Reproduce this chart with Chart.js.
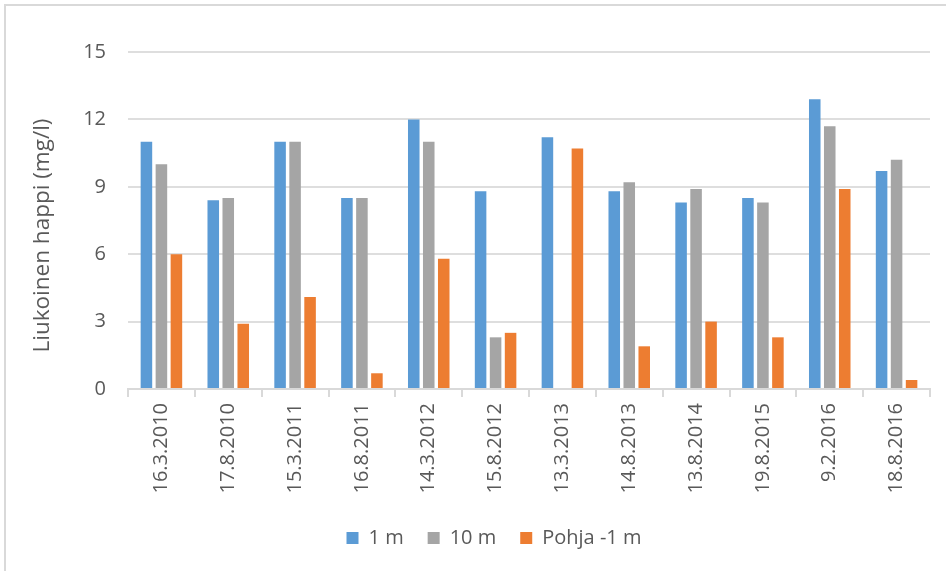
<!DOCTYPE html>
<html>
<head>
<meta charset="utf-8">
<script src="https://cdn.jsdelivr.net/npm/chart.js@4"></script>
<style>
  html, body { margin: 0; padding: 0; background: #ffffff; }
  #wrap { position: relative; width: 946px; height: 571px; overflow: hidden; background: #ffffff; }
  #frame { position: absolute; left: 4px; top: 4px; width: 970px; height: 590px;
           border: 2px solid #d9d9d9; box-sizing: border-box; }
  #c { position: absolute; left: 0; top: 0; }
</style>
</head>
<body>
<div id="wrap">
  <div id="frame"></div>
  <canvas id="c" width="946" height="571"></canvas>
</div>
<script>
// Sampling dates
const dates = ['16.3.2010', '17.8.2010', '15.3.2011', '16.8.2011', '14.3.2012', '15.8.2012',
               '13.3.2013', '14.8.2013', '13.8.2014', '19.8.2015', '9.2.2016', '18.8.2016'];

// Dissolved oxygen (mg/l) per depth
const depth1m   = [11, 8.4, 11, 8.5, 12, 8.8, 11.2, 8.8, 8.3, 8.5, 12.9, 9.7];
const depth10m  = [10, 8.5, 11, 8.5, 11, 2.3, null, 9.2, 8.9, 8.3, 11.7, 10.2];
const nearBottom = [6, 2.9, 4.1, 0.7, 5.8, 2.5, 10.7, 1.9, 3.0, 2.3, 8.9, 0.4];

const seriesNames = ['1 m', '10 m', 'Pohja -1 m'];
const yMin = 0, yMax = 15, yStep = 3;
const yTitle = 'Liukoinen happi (mg/l)';

const FONT = '"Open Sans", "Noto Sans", sans-serif';
const TEXT = '#595959';
const GRID = '#dedede';

Chart.defaults.font.family = FONT;
Chart.defaults.color = TEXT;

// Vertical axis title, rotated and centred beside the plot
const axisTitle = {
  id: 'axisTitle',
  afterDraw(chart) {
    const { ctx, chartArea } = chart;
    ctx.save();
    ctx.font = '22.5px ' + FONT;
    ctx.fillStyle = TEXT;
    ctx.textAlign = 'center';
    ctx.textBaseline = 'middle';
    ctx.translate(43, (chartArea.top + chartArea.bottom) / 2 + 15);
    ctx.rotate(-Math.PI / 2);
    ctx.fillText(yTitle, 0, 0);
    ctx.restore();
  }
};

// Nudge the legend row to the right so it sits under the whole frame
const legendShift = {
  id: 'legendShift',
  afterLayout(chart) {
    const lg = chart.legend;
    if (lg) { lg.left += 29; lg.right += 29; }
  }
};

new Chart(document.getElementById('c'), {
  type: 'bar',
  data: {
    labels: dates,
    datasets: [
      { label: seriesNames[0], data: depth1m,    backgroundColor: '#5b9bd5' },
      { label: seriesNames[1], data: depth10m,   backgroundColor: '#a5a5a5' },
      { label: seriesNames[2], data: nearBottom, backgroundColor: '#ed7d31' }
    ]
  },
  options: {
    responsive: false,
    animation: false,
    devicePixelRatio: 1,
    datasets: { bar: { categoryPercentage: 0.673, barPercentage: 0.77 } },
    layout: { padding: { left: 0, right: 16, top: 52, bottom: 13 } },
    plugins: {
      title: { display: false },
      tooltip: { enabled: false },
      legend: {
        position: 'bottom',
        labels: {
          boxWidth: 12, boxHeight: 12, padding: 24,
          color: TEXT,
          font: { size: 20, family: FONT }
        }
      }
    },
    scales: {
      x: {
        grid: { offset: true, drawOnChartArea: false, drawTicks: true, tickLength: 8, color: '#d9d9d9', lineWidth: 2 },
        border: { display: true, color: '#d9d9d9', width: 2 },
        ticks: { minRotation: 90, maxRotation: 90, autoSkip: false, padding: 6,
                 color: TEXT, font: { size: 20, family: FONT } },
        afterFit(scale) { scale.height = 115; }
      },
      y: {
        min: yMin, max: yMax,
        grid: { color: GRID, lineWidth: 2, drawTicks: false },
        border: { display: false },
        ticks: { stepSize: yStep, padding: 22, color: TEXT, font: { size: 20, family: FONT } },
        afterFit(scale) { scale.width = 128; }
      }
    }
  },
  plugins: [axisTitle, legendShift]
});
</script>
</body>
</html>
